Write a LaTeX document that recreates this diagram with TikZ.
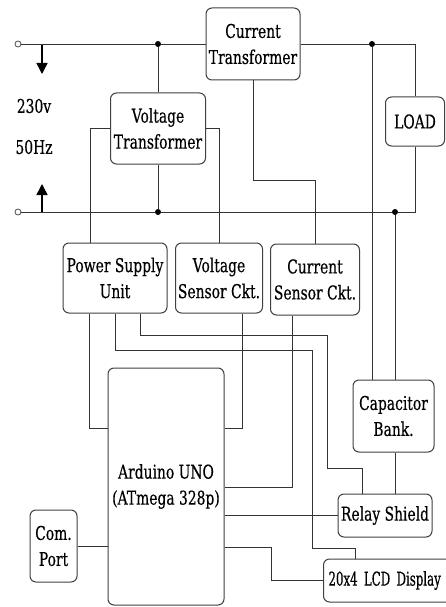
\documentclass[tikz,border=0pt]{standalone}
\usepackage{fontspec}
\newfontfamily\lblfont[FakeStretch=0.73,FakeBold=0.4]{DejaVu Serif}
\newfontfamily\lcdfont[FakeStretch=0.62,FakeBold=0.4]{DejaVu Serif}
\usetikzlibrary{arrows.meta}
\tikzset{
  box/.style={draw=black!75, line width=1pt, rounded corners=6pt, align=center, inner sep=0pt,
    font=\lblfont\fontsize{19}{26}\selectfont},
  lbl/.style={inner sep=0pt, font=\lblfont\fontsize{19}{26}\selectfont},
  wire/.style={draw=black!80, line width=0.9pt},
  jdot/.style={circle, fill=black, inner sep=0pt, minimum size=6pt},
  term/.style={circle, draw=black!70, line width=0.8pt, fill=white, inner sep=0pt, minimum size=6pt},
  bigarrow/.style={-{Triangle[width=11pt,length=11pt]}, line width=1.5pt, black}
}
\begin{document}
\begin{tikzpicture}[x=1pt,y=-1pt]
\useasboundingbox (0,0) rectangle (446,607);
\clip (0,0) rectangle (446,607);
\fill[white] (0,0) rectangle (446,607);

% boxes
\node[box, minimum width=94pt, minimum height=72pt] (CT) at (253,44) {Current\\Transformer};
\node[box, minimum width=95pt, minimum height=71pt] (VT) at (158,128.5) {Voltage\\Transformer};
\node[box, minimum width=59pt, minimum height=49pt] (LOAD) at (415,121.5) {LOAD};
\node[box, minimum width=104pt, minimum height=70pt] (PSU) at (115,278) {Power Supply\\Unit};
\node[box, minimum width=87pt, minimum height=70pt] (VSC) at (219,278) {Voltage\\Sensor Ckt.};
\node[box, minimum width=89pt, minimum height=71pt] (CSC) at (315,279.5) {Current\\Sensor Ckt.};
\node[box, minimum width=81pt, minimum height=72pt] (CAP) at (393.5,416) {Capacitor\\Bank.};
\node[box, minimum width=94pt, minimum height=43pt] (RLY) at (385,515.5) {Relay Shield};
\node[box, minimum width=116pt, minimum height=237pt] (ARD) at (166,486.5) {Arduino UNO\\(ATmega 328p)};
\node[box, minimum width=47pt, minimum height=72pt] (COM) at (53.5,546) {Com.\\Port};
\node[box, minimum width=150pt, minimum height=43pt, anchor=west, align=left, text width=140pt,
      font=\lcdfont\fontsize{19}{26}\selectfont] (LCD) at (323,580.5) {20x4 LCD Display};

% supply labels
\node[lbl] (V230) at (34,106) {230v};
\node[lbl] (F50) at (34,147) {50Hz};

% terminals and junctions
\node[term] (T1) at (18,44) {};
\node[term] (T2) at (18,212) {};
\node[jdot] (J1) at (158,44) {};
\node[jdot] (J2) at (372,44) {};
\node[jdot] (J3) at (158,212) {};
\node[jdot] (J4) at (395,212) {};
\coordinate (C1) at (415,44);
\coordinate (C2) at (415,212);

% arrows
\coordinate (A1s) at (42,44);
\coordinate (A1e) at (42,74);
\coordinate (A2s) at (42,212);
\coordinate (A2e) at (42,184);
\draw[bigarrow] (A1s) -- (A1e);
\draw[bigarrow] (A2s) -- (A2e);

% mains lines
\draw[wire] (T1) -- (J1) -- (CT.west);
\draw[wire] (CT.east) -- (J2) -- (C1) -- (LOAD.north);
\draw[wire] (T2) -- (J3) -- (J4) -- (C2) -- (LOAD.south);
\draw[wire] (J1) -- (VT.north);
\draw[wire] (VT.south) -- (J3);

% transformer outputs
\draw[wire] (VT.west) -| ([xshift=-25pt]PSU.north);
\draw[wire] (VT.east) -| (VSC.north);
\draw[wire] (CT.south) -- ++(0,100) -| (CSC.north);

% capacitor bank
\draw[wire] (J2) -- (J2 |- CAP.north);
\draw[wire] (J4) -- (J4 |- CAP.north);
\draw[wire] (CAP.south -| J4) -- (RLY.north -| J4);

% power supply outputs
\draw[wire] ([xshift=-26pt]PSU.south) |- ([yshift=58.5pt]ARD.west);
\draw[wire] (PSU.south) -- ++(0,37) -- ++(197,0) -- ++(0,198) -| ([xshift=32pt]LCD.north west);
\draw[wire] ([xshift=25pt]PSU.south) -- ++(0,22) -- ++(187,0) -- ++(0,133) -| ([xshift=-23pt]RLY.north);

% sensor outputs
\draw[wire] ([xshift=23pt]VSC.south) |- ([yshift=58.5pt]ARD.east);
\draw[wire] ([xshift=-23pt]CSC.south) |- ([yshift=-0.5pt]ARD.east);

% arduino outputs
\draw[wire] (ARD.east |- RLY.west) -- (RLY.west);
\draw[wire] ([yshift=-60.5pt]ARD.east) -- ++(47,0) |- (LCD.west);
\draw[wire] (COM.east) -- (COM.east -| ARD.west);
\end{tikzpicture}
\end{document}
